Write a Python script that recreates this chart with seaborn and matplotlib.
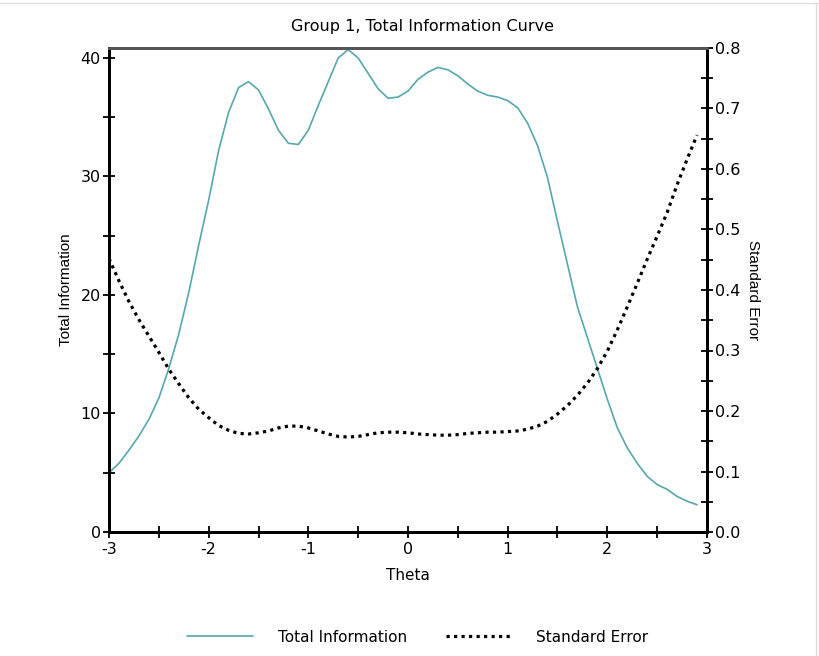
import numpy as np
import pandas as pd
import matplotlib
matplotlib.use("Agg")
import matplotlib.pyplot as plt
import seaborn as sns
from matplotlib.ticker import MultipleLocator, FormatStrFormatter
from matplotlib.lines import Line2D

theta = [-3.0, -2.9, -2.8, -2.7, -2.6, -2.5, -2.4, -2.3, -2.2, -2.1,
         -2.0, -1.9, -1.8, -1.7, -1.6, -1.5, -1.4, -1.3, -1.2, -1.1,
         -1.0, -0.9, -0.8, -0.7, -0.6, -0.5, -0.4, -0.3, -0.2, -0.1,
         0.0, 0.1, 0.2, 0.3, 0.4, 0.5, 0.6, 0.7, 0.8, 0.9,
         1.0, 1.1, 1.2, 1.3, 1.4, 1.5, 1.6, 1.7, 1.8, 1.9,
         2.0, 2.1, 2.2, 2.3, 2.4, 2.5, 2.6, 2.7, 2.8, 2.9]

total_info = [5.0, 5.8, 6.9, 8.1, 9.5, 11.3, 13.8, 16.7, 20.2, 24.2,
              28.0, 32.2, 35.4, 37.5, 38.0, 37.3, 35.7, 33.9, 32.8, 32.7,
              33.9, 36.0, 38.0, 40.0, 40.7, 40.0, 38.7, 37.4, 36.6, 36.7,
              37.2, 38.2, 38.8, 39.2, 39.0, 38.5, 37.8, 37.2, 36.85, 36.7,
              36.4, 35.8, 34.5, 32.6, 29.9, 26.2, 22.6, 19.0, 16.4, 13.8,
              11.2, 8.8, 7.1, 5.8, 4.7, 4.0, 3.6, 3.0, 2.6, 2.3]

std_error = [0.452, 0.415, 0.381, 0.351, 0.324, 0.297, 0.269, 0.245, 0.222, 0.203,
             0.189, 0.176, 0.168, 0.163, 0.162, 0.164, 0.167, 0.172, 0.175, 0.175,
             0.172, 0.167, 0.162, 0.158, 0.157, 0.158, 0.161, 0.164, 0.165, 0.165,
             0.164, 0.162, 0.161, 0.160, 0.160, 0.161, 0.163, 0.164, 0.165, 0.165,
             0.166, 0.167, 0.170, 0.175, 0.183, 0.195, 0.209, 0.226, 0.246, 0.270,
             0.299, 0.334, 0.372, 0.411, 0.451, 0.489, 0.528, 0.574, 0.616, 0.656]

title = "Group 1, Total Information Curve"
x_label = "Theta"
left_label = "Total Information"
right_label = "Standard Error"
series_names = ["Total Information", "Standard Error"]

df = pd.DataFrame({"theta": theta, "info": total_info, "se": std_error})

sns.set_style("ticks")
plt.rcParams["font.family"] = ["DejaVu Sans"]
plt.rcParams["axes.unicode_minus"] = False
plt.rcParams["text.color"] = "black"
plt.rcParams["axes.labelcolor"] = "black"

info_color = "#55A8AC"
dot_style = (0, (1.0, 1.35))

fig = plt.figure(figsize=(8.2, 6.56), dpi=100)
ax = fig.add_axes([109 / 820, 1 - 532 / 656, (707 - 109) / 820, (532 - 48) / 656])
ax2 = ax.twinx()

sns.lineplot(data=df, x="theta", y="info", ax=ax, color=info_color, linewidth=1.2,
             legend=False)
sns.lineplot(data=df, x="theta", y="se", ax=ax2, color="black", linewidth=2.3,
             linestyle=dot_style, legend=False)

ax.set_xlim(-3, 3)
ax.set_ylim(0, 40.84)
ax2.set_ylim(0, 0.8)

ax.xaxis.set_major_locator(MultipleLocator(1))
ax.xaxis.set_minor_locator(MultipleLocator(0.5))
ax.yaxis.set_major_locator(MultipleLocator(10))
ax.yaxis.set_minor_locator(MultipleLocator(5))
ax2.yaxis.set_major_locator(MultipleLocator(0.1))
ax2.yaxis.set_minor_locator(MultipleLocator(0.05))
ax2.yaxis.set_major_formatter(FormatStrFormatter("%.1f"))

for a in (ax, ax2):
    a.tick_params(which="both", direction="inout", length=8, width=1.3,
                  colors="black", labelcolor="black", labelsize=11.5, pad=2)
    a.set_xlabel("")
    a.set_ylabel("")
    for s in a.spines.values():
        s.set_linewidth(2)
        s.set_color("black")
    a.spines["top"].set_color("#555555")
ax.tick_params(axis="x", pad=3)

ax.set_xlabel(x_label, fontsize=11, labelpad=8, color="black")
ax.set_ylabel(left_label, family=["Liberation Sans", "DejaVu Sans"], fontsize=11,
              labelpad=5, color="black")
ax2.set_ylabel(right_label, family=["Liberation Sans", "DejaVu Sans"], fontsize=11,
               rotation=-90, labelpad=4, va="bottom", color="black")

fig.text(423 / 820, 1 - 27 / 656, title, ha="center", va="center", fontsize=11.5,
         color="black")

handles = [Line2D([], [], color=info_color, linewidth=1.2),
           Line2D([], [], color="black", linewidth=2.3, linestyle=dot_style)]
fig.legend(handles, series_names, loc="center", bbox_to_anchor=(418 / 820, 1 - 637 / 656),
           ncol=2, frameon=False, fontsize=11, handlelength=4.3, handletextpad=1.6,
           columnspacing=2.6, labelcolor="black")

# faint page border seen at top and right of the reference
fig.add_artist(Line2D([0, 1], [1 - 3 / 656, 1 - 3 / 656], color="#dddddd", linewidth=1))
fig.add_artist(Line2D([816 / 820, 816 / 820], [0, 1 - 3 / 656], color="#dddddd", linewidth=1))

fig.savefig("out.png", dpi=100, facecolor="white")
